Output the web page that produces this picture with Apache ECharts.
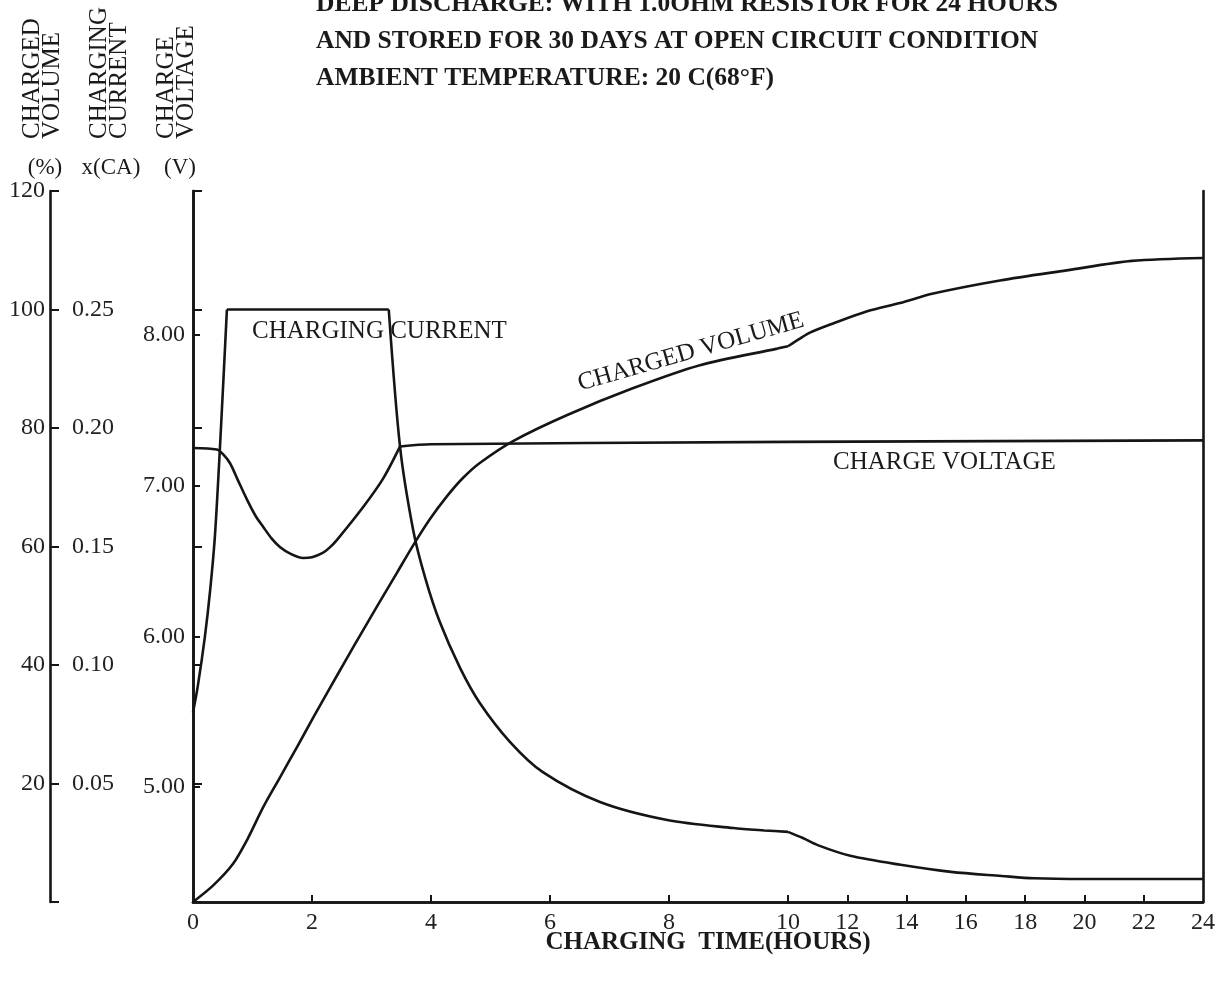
<!DOCTYPE html>
<html>
<head>
<meta charset="utf-8">
<script src="https://cdn.jsdelivr.net/npm/echarts@6/dist/echarts.min.js"></script>
<style>
html,body{margin:0;padding:0;background:#fff;}
#chart{width:1220px;height:981px;}
</style>
</head>
<body>
<div id="chart"></div>
<script>
// ---------- texts ----------
const titleLines = [
  'DEEP DISCHARGE: WITH 1.0OHM RESISTOR FOR 24 HOURS',
  'AND STORED FOR 30 DAYS AT OPEN CIRCUIT CONDITION',
  'AMBIENT TEMPERATURE: 20 C(68\u00B0F)'
];
const axisTitles = ['CHARGED\nVOLUME', 'CHARGING\nCURRENT', 'CHARGE\nVOLTAGE'];
const axisUnits = ['(%)', 'x(CA)', '(V)'];
const xAxisTitle = 'CHARGING  TIME(HOURS)';

// ---------- tick values ----------
const xLabelsLeft = [0, 2, 4, 6, 8];
const xTicksLeft = [2, 4, 6, 8];
const xLabelsRight = [10, 12, 14, 16, 18, 20, 22, 24];
const xTicksRight = [10, 12, 14, 16, 18, 20, 22];
const voltTicks = [5, 6, 7, 8];
const caTicks = [0, 0.05, 0.10, 0.15, 0.20, 0.25, 0.30];
const caLabels = [0.05, 0.10, 0.15, 0.20, 0.25];
const pctTicks = [0, 20, 40, 60, 80, 100, 120];
const pctLabels = [20, 40, 60, 80, 100, 120];

// ---------- series (hours / value) ----------
const currentHours = [0, 0.08, 0.2, 0.29, 0.37, 0.47, 0.57, 3.29, 3.48, 3.70, 3.90, 4.15, 4.49, 4.82, 5.33, 5.88, 6.84, 7.97, 9.08, 9.6, 10.0, 10.5, 11.0, 12.1, 13.8, 15.5, 17.2, 18.3, 20.0, 24.0];
const currentCA = [0.080, 0.091, 0.112, 0.132, 0.155, 0.200, 0.250, 0.250, 0.192, 0.157, 0.137, 0.118, 0.0987, 0.084, 0.0675, 0.0548, 0.0422, 0.0346, 0.0312, 0.0302, 0.0296, 0.027, 0.024, 0.0195, 0.0157, 0.0127, 0.011, 0.010, 0.0097, 0.0097];
// hours where the current curve has sharp corners
const currentCorners = [0.57, 3.29];

const voltageHours = [0, 0.4, 0.5, 0.62, 0.75, 0.91, 1.05, 1.18, 1.32, 1.46, 1.65, 1.85, 2.0, 2.18, 2.3, 2.42, 2.86, 3.2, 3.48, 4.0, 10.0, 24.0];
const voltageV = [7.25, 7.24, 7.21, 7.15, 7.04, 6.905, 6.80, 6.726, 6.65, 6.593, 6.545, 6.52, 6.525, 6.553, 6.59, 6.64, 6.858, 7.05, 7.26, 7.275, 7.29, 7.30];
const voltageCorners = [3.48];

const volumeHours = [0, 0.34, 0.67, 0.91, 1.18, 1.46, 1.75, 2.02, 2.30, 2.59, 2.86, 3.14, 3.43, 3.70, 3.98, 4.27, 4.54, 4.82, 5.38, 6.29, 7.39, 8.52, 9.82, 10.0, 10.4, 10.74, 11.5, 12.67, 13.78, 14.9, 17.15, 19.4, 21.6, 24.0];
const volumePct = [0, 2.8, 6.4, 10.5, 16.0, 21.0, 26.2, 31.1, 36.1, 41.2, 45.9, 50.7, 55.6, 60.2, 64.6, 68.5, 71.6, 74.1, 77.8, 82.2, 86.7, 90.6, 93.4, 93.8, 95.1, 96.1, 97.6, 99.7, 101.1, 102.7, 104.9, 106.6, 108.2, 108.7];
const volumeCorners = [];

// ---------- build ----------
const FONT = '"Liberation Serif", "Times New Roman", serif';
const INK = '#151515';
const BREAK_H = 10;

function part(hrs, vals, lo, hi) {
  const out = [];
  for (let i = 0; i < hrs.length; i++) {
    if (hrs[i] >= lo && hrs[i] <= hi) out.push([hrs[i], vals[i]]);
  }
  return out;
}

const lineStyle = { color: INK, width: 2.6 };
const axisLine = { show: true, lineStyle: { color: INK, width: 2.6 } };
const tickStyle = { color: INK, width: 2 };
const labelBase = { color: '#222', fontFamily: FONT, fontSize: 24 };

const GRID_TOP = 191, GRID_H = 711, GRID_L = 193, BREAK_X = 788, GRID_R = 1203;
const V_MIN = 4.237, V_MAX = 8.955;

const chart = echarts.init(document.getElementById('chart'), null, { renderer: 'canvas' });

// split a curve at its corners and at the axis break, one line per piece
function curveSeries(name, hrs, vals, corners, yLeft, yRight) {
  const bounds = [hrs[0]].concat(corners, [hrs[hrs.length - 1]]);
  const out = [];
  for (let k = 0; k < bounds.length - 1; k++) {
    const lo = bounds[k], hi = bounds[k + 1];
    [[0, Math.min(hi, BREAK_H), 0, yLeft], [Math.max(lo, BREAK_H), 24, 1, yRight]].forEach(([a, b, xi, yi]) => {
      const l = Math.max(lo, a), h = Math.min(hi, b);
      if (h <= l) return;
      const d = part(hrs, vals, l, h);
      if (d.length < 2) return;
      out.push({ type: 'line', name: name, xAxisIndex: xi, yAxisIndex: yi, data: d,
        symbol: 'none', showSymbol: false, smooth: d.length > 2 ? 0.3 : false,
        lineStyle: lineStyle, z: 3 });
    });
  }
  return out;
}

const option = {
  animation: false,
  backgroundColor: '#ffffff',
  grid: [
    { left: GRID_L, top: GRID_TOP, width: BREAK_X - GRID_L, height: GRID_H, show: false },
    { left: BREAK_X, top: GRID_TOP, width: GRID_R - BREAK_X, height: GRID_H, show: false }
  ],
  xAxis: [
    { gridIndex: 0, type: 'value', position: 'bottom', min: 0, max: BREAK_H,
      axisLine: axisLine, splitLine: { show: false },
      axisTick: { show: true, inside: true, length: 7, lineStyle: tickStyle, customValues: xTicksLeft },
      axisLabel: Object.assign({ margin: 9, customValues: xLabelsLeft, showMinLabel: true }, labelBase) },
    { gridIndex: 1, type: 'value', position: 'bottom', min: BREAK_H, max: 24,
      axisLine: axisLine, splitLine: { show: false },
      axisTick: { show: true, inside: true, length: 7, lineStyle: tickStyle, customValues: xTicksRight },
      axisLabel: Object.assign({ margin: 9, customValues: xLabelsRight, showMinLabel: true, showMaxLabel: true }, labelBase) },
    { gridIndex: 0, type: 'value', position: 'top', min: 0, max: BREAK_H,
      axisLine: axisLine, splitLine: { show: false }, axisTick: { show: false }, axisLabel: { show: false } },
    { gridIndex: 1, type: 'value', position: 'top', min: BREAK_H, max: 24,
      axisLine: axisLine, splitLine: { show: false }, axisTick: { show: false }, axisLabel: { show: false } }
  ],
  yAxis: [
    { gridIndex: 0, type: 'value', position: 'left', offset: 0, min: V_MIN, max: V_MAX,
      axisLine: axisLine, splitLine: { show: false },
      axisTick: { show: true, inside: true, length: 7, lineStyle: tickStyle, customValues: voltTicks },
      axisLabel: Object.assign({ margin: 8, customValues: voltTicks, formatter: v => v.toFixed(2) }, labelBase) },
    { gridIndex: 0, type: 'value', position: 'left', offset: 75, min: 0, max: 0.30,
      axisLine: axisLine, splitLine: { show: false },
      axisTick: { show: true, inside: true, length: 9, lineStyle: tickStyle, customValues: caTicks },
      axisLabel: Object.assign({ margin: 4, customValues: caLabels, formatter: v => v.toFixed(2) }, labelBase) },
    { gridIndex: 0, type: 'value', position: 'left', offset: 143, min: 0, max: 120,
      axisLine: axisLine, splitLine: { show: false },
      axisTick: { show: true, inside: true, length: 9, lineStyle: tickStyle, customValues: pctTicks },
      axisLabel: Object.assign({ margin: 5, customValues: pctLabels, showMaxLabel: true }, labelBase) },
    { gridIndex: 1, type: 'value', position: 'right', min: V_MIN, max: V_MAX,
      axisLine: axisLine, splitLine: { show: false }, axisTick: { show: false }, axisLabel: { show: false } },
    { gridIndex: 1, type: 'value', min: 0, max: 0.30, show: false, splitLine: { show: false } },
    { gridIndex: 1, type: 'value', min: 0, max: 120, show: false, splitLine: { show: false } }
  ],
  series: [].concat(
    curveSeries('CHARGING CURRENT', currentHours, currentCA, currentCorners, 1, 4),
    curveSeries('CHARGE VOLTAGE', voltageHours, voltageV, voltageCorners, 0, 3),
    curveSeries('CHARGED VOLUME', volumeHours, volumePct, volumeCorners, 2, 5)
  ),
  graphic: []
};

function txt(x, y, text, opts) {
  const o = opts || {};
  return {
    type: 'text', x: x, y: y, rotation: o.rotation || 0, z: 10,
    style: {
      text: text,
      font: (o.weight || 'normal') + ' ' + (o.size || 24) + 'px ' + FONT,
      fill: o.color || '#1a1a1a',
      align: o.align || 'left', textAlign: o.align || 'left',
      verticalAlign: o.valign || 'middle', textVerticalAlign: o.valign || 'middle',
      lineHeight: o.lineHeight
    }
  };
}

const g = [];
titleLines.forEach((t, i) => g.push(txt(316, 4 + i * 37, t, { weight: 'bold', size: 25.5 })));
const vertX = [22, 89, 156];
axisTitles.forEach((t, i) => g.push(txt(vertX[i], 139, t, { rotation: Math.PI / 2, size: 25, lineHeight: 20, valign: 'top' })));
const unitX = [45, 111, 180];
axisUnits.forEach((t, i) => g.push(txt(unitX[i], 168, t, { align: 'center', size: 23 })));
g.push(txt(708, 943, xAxisTitle, { weight: 'bold', size: 25, align: 'center' }));
g.push(txt(252, 331, 'CHARGING CURRENT', { size: 25 }));
g.push(txt(833, 462, 'CHARGE VOLTAGE', { size: 25 }));
g.push(txt(691, 352, 'CHARGED VOLUME', { size: 25, align: 'center', rotation: 16 * Math.PI / 180 }));
option.graphic = g;

chart.setOption(option);
</script>
</body>
</html>
